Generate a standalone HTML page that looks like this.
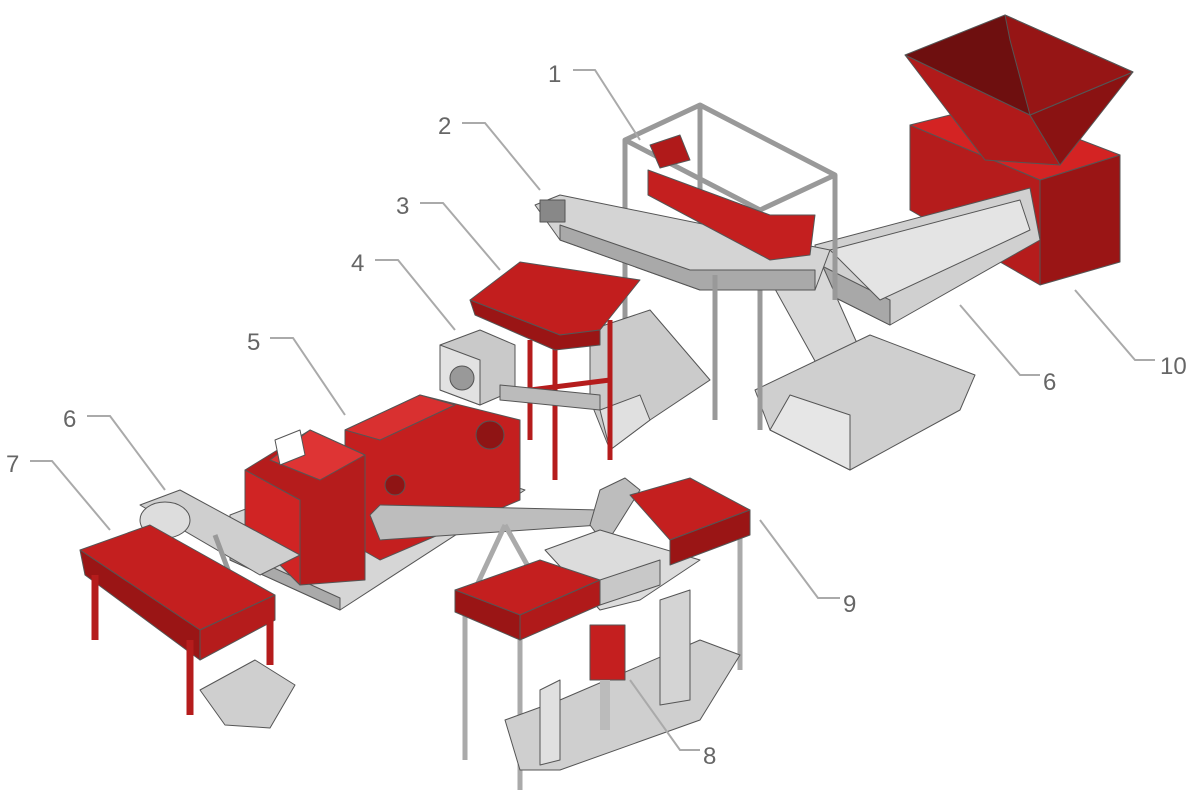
<!DOCTYPE html>
<html><head><meta charset="utf-8"><style>
html,body{margin:0;padding:0;background:#fff;}
svg{display:block}
text{font-family:"Liberation Sans",sans-serif;font-size:24px;fill:#666}
</style></head><body>
<svg width="1200" height="811" viewBox="0 0 1200 811" xmlns="http://www.w3.org/2000/svg">
<g stroke="#555" stroke-width="1" stroke-linejoin="round">
<!-- Hopper 10 -->
<polygon points="910,125 1040,180 1040,285 910,210" fill="#b51c1c"/>
<polygon points="1040,180 1120,155 1120,262 1040,285" fill="#9a1515"/>
<polygon points="910,125 990,105 1120,155 1040,180" fill="#d42323"/>
<polygon points="905,55 1030,115 1060,165 985,160" fill="#b01a1a"/>
<polygon points="1030,115 1133,72 1060,165" fill="#8a1212"/>
<polygon points="905,55 1005,15 1133,72 1030,115" fill="#6e0f0f"/>
<polygon points="1005,15 1133,72 1030,115 1010,40" fill="#961515"/>
<!-- conveyor 6 right -->
<polygon points="815,245 1030,188 1040,240 890,325 820,290" fill="#d0d0d0"/>
<polygon points="820,290 890,325 890,300 820,265" fill="#a8a8a8"/>
<polygon points="830,250 1020,200 1030,230 880,300" fill="#e4e4e4"/>
<!-- chute -->
<polygon points="770,280 820,260 860,350 820,370" fill="#d8d8d8"/>
<!-- bin right -->
<polygon points="755,390 870,335 975,375 960,410 850,470 770,430" fill="#cfcfcf"/>
<polygon points="770,430 850,470 850,415 790,395" fill="#e6e6e6"/>
<!-- frame 1 -->
<g fill="none" stroke="#999" stroke-width="5">
<polyline points="625,420 625,140 700,105 835,175 835,300"/>
<polyline points="625,140 760,210 835,175"/>
<line x1="760" y1="210" x2="760" y2="430"/>
<line x1="700" y1="105" x2="700" y2="260"/>
</g>
<!-- conveyor 2 inclined -->
<polygon points="535,205 560,195 830,250 815,290 700,290 560,240" fill="#d4d4d4"/>
<polygon points="560,240 700,290 815,290 815,270 690,270 560,225" fill="#a9a9a9"/>
<rect x="540" y="200" width="25" height="22" fill="#888"/>
<!-- red screen 1 -->
<polygon points="648,170 770,215 815,215 810,255 770,260 648,195" fill="#c41f1f"/>
<polygon points="650,145 680,135 690,160 660,168" fill="#b01a1a"/>
<!-- bin middle -->
<polygon points="590,330 650,310 710,380 650,420 610,450 590,400" fill="#cbcbcb"/>
<polygon points="610,450 650,420 640,395 600,410" fill="#e0e0e0"/>
<line x1="715" y1="275" x2="715" y2="420" stroke="#999" stroke-width="5"/>
<!-- stand legs 3 -->
<g stroke="#b51c1c" stroke-width="5">
<line x1="555" y1="330" x2="555" y2="480"/>
<line x1="610" y1="320" x2="610" y2="460"/>
<line x1="530" y1="340" x2="530" y2="440"/>
<line x1="530" y1="390" x2="610" y2="380"/>
</g>
<!-- sieve 3 -->
<polygon points="470,300 520,262 640,280 600,330 560,335" fill="#c21e1e"/>
<polygon points="470,300 560,335 600,330 600,345 555,350 475,315" fill="#9a1515"/>
<!-- box 4 -->
<polygon points="440,345 480,330 515,345 515,390 480,405 440,390" fill="#c9c9c9"/>
<polygon points="440,345 480,360 480,405 440,390" fill="#e2e2e2"/>
<circle cx="462" cy="378" r="12" fill="#999"/>
<polygon points="500,385 600,395 600,410 500,400" fill="#bbb"/>
<!-- base plate 5 -->
<polygon points="230,515 400,450 525,490 340,610 230,560" fill="#d6d6d6"/>
<polygon points="230,560 340,610 340,598 230,548" fill="#aaa"/>
<!-- machine 5 -->
<polygon points="345,430 420,395 520,420 520,500 380,560 345,540" fill="#c41f1f"/>
<polygon points="345,430 420,395 455,405 380,440" fill="#d93030"/>
<polygon points="245,470 310,430 365,455 365,580 300,585 245,530" fill="#b51c1c"/>
<polygon points="245,470 300,500 300,585 245,530" fill="#d02424"/>
<polygon points="270,460 310,430 365,455 320,480" fill="#de3434"/>
<polygon points="275,440 300,430 305,455 280,465" fill="#fff"/>
<circle cx="490" cy="435" r="14" fill="#8f1414"/>
<circle cx="395" cy="485" r="10" fill="#8f1414"/>
<!-- pipe -->
<polygon points="370,515 380,505 600,510 600,525 380,540" fill="#bdbdbd"/>
<polygon points="590,525 600,490 625,478 640,490 615,530 605,545" fill="#bdbdbd"/>
<!-- conveyor 6 left -->
<polygon points="140,505 180,490 300,555 260,575" fill="#cfcfcf"/>
<ellipse cx="165" cy="520" rx="25" ry="18" fill="#ddd"/>
<line x1="215" y1="535" x2="230" y2="575" stroke="#999" stroke-width="5"/>
<!-- table 7 -->
<polygon points="80,550 150,525 275,595 200,630" fill="#c41f1f"/>
<polygon points="80,550 200,630 200,660 85,575" fill="#9a1515"/>
<polygon points="200,630 275,595 275,620 200,660" fill="#b51c1c"/>
<g stroke="#b51c1c" stroke-width="7">
<line x1="95" y1="575" x2="95" y2="640"/>
<line x1="190" y1="640" x2="190" y2="715"/>
<line x1="270" y1="615" x2="270" y2="665"/>
</g>
<polygon points="200,690 255,660 295,685 270,728 225,725" fill="#cfcfcf"/>
<!-- unit 9 -->
<g stroke="#aaa" stroke-width="5">
<line x1="465" y1="615" x2="465" y2="760"/>
<line x1="520" y1="640" x2="520" y2="790"/>
<line x1="740" y1="530" x2="740" y2="670"/>
<line x1="505" y1="525" x2="470" y2="600"/>
<line x1="505" y1="525" x2="530" y2="570"/>
</g>
<polygon points="545,550 600,530 700,560 640,600 600,610" fill="#dcdcdc"/>
<polygon points="505,720 560,700 700,640 740,655 700,720 560,770 520,770" fill="#cfcfcf"/>
<polygon points="540,690 560,680 560,760 540,765" fill="#e0e0e0"/>
<polygon points="660,600 690,590 690,700 660,705" fill="#d4d4d4"/>
<polygon points="455,590 540,560 600,580 520,615" fill="#c41f1f"/>
<polygon points="455,590 520,615 520,640 455,612" fill="#9a1515"/>
<polygon points="520,615 600,580 600,605 520,640" fill="#b01a1a"/>
<polygon points="600,580 660,560 660,585 600,605" fill="#c8c8c8"/>
<polygon points="630,495 690,478 750,510 670,540" fill="#c41f1f"/>
<polygon points="670,540 750,510 750,535 670,565" fill="#9a1515"/>
<rect x="590" y="625" width="35" height="55" fill="#c41f1f"/>
<line x1="605" y1="680" x2="605" y2="730" stroke="#bbb" stroke-width="10"/>
</g>
<!-- leader lines -->
<g stroke="#aaa" stroke-width="2" fill="none">
<polyline points="573,70 595,70 640,140"/>
<polyline points="462,123 485,123 540,190"/>
<polyline points="420,203 443,203 500,270"/>
<polyline points="375,260 398,260 455,330"/>
<polyline points="270,338 293,338 345,415"/>
<polyline points="87,416 110,416 165,490"/>
<polyline points="30,461 52,461 110,530"/>
<polyline points="1040,375 1020,375 960,305"/>
<polyline points="1155,360 1135,360 1075,290"/>
<polyline points="840,598 818,598 760,520"/>
<polyline points="700,750 680,750 630,680"/>
</g>
<text x="548" y="82">1</text>
<text x="438" y="134">2</text>
<text x="396" y="214">3</text>
<text x="351" y="271">4</text>
<text x="247" y="350">5</text>
<text x="63" y="427">6</text>
<text x="6" y="472">7</text>
<text x="1043" y="390">6</text>
<text x="1160" y="374">10</text>
<text x="843" y="612">9</text>
<text x="703" y="764">8</text>
</svg>
</body></html>
